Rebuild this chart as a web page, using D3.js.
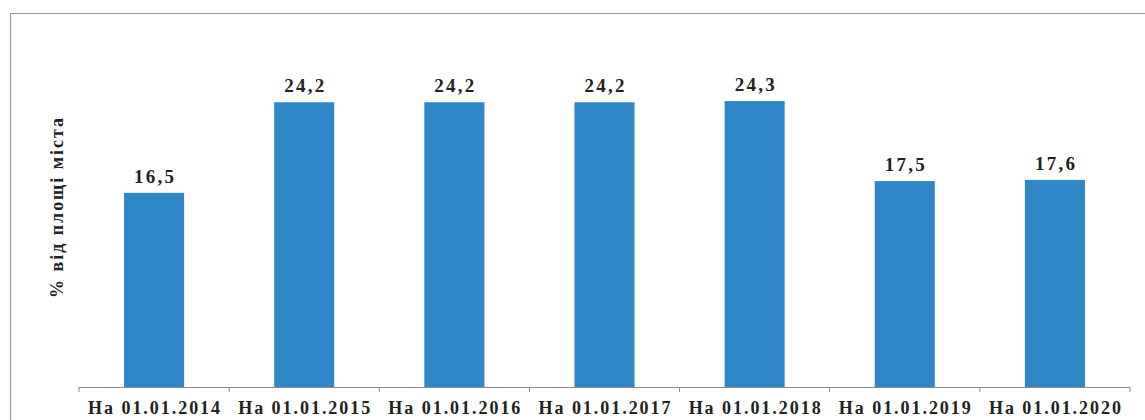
<!DOCTYPE html>
<html><head><meta charset="utf-8">
<script src="https://cdn.jsdelivr.net/npm/d3@7"></script>
<style>body{margin:0;background:#fff;overflow:hidden}svg{display:block}
text{font-family:"Liberation Serif","Times New Roman",serif;font-weight:bold;fill:#222}</style>
</head><body>
<svg id="c" width="1145" height="420"></svg>
<script>
const categories = ["На 01.01.2014","На 01.01.2015","На 01.01.2016","На 01.01.2017","На 01.01.2018","На 01.01.2019","На 01.01.2020"];
const values = [16.5, 24.2, 24.2, 24.2, 24.3, 17.5, 17.6];
const valueLabels = ["16,5","24,2","24,2","24,2","24,3","17,5","17,6"];
const yTitle = "% від площі міста";

const svg = d3.select("#c");
const W = 1145, H = 420;
const m = {left: 79, right: 15, top: 34, bottom: 33};
const x = d3.scaleBand().domain(categories).range([m.left, W - m.right]).paddingInner(0.6).paddingOuter(0.3);
const y = d3.scaleLinear().domain([0, 30]).range([H - m.bottom, m.top]);

// frame (left and top edges visible)
svg.append("path").attr("d", `M10.5,${H+5} L10.5,13.5 L${W+5},13.5`)
  .attr("fill", "none").attr("stroke", "#9a9a9a").attr("stroke-width", 1.2);

// bars
svg.selectAll("rect.bar").data(values).join("rect").attr("class","bar")
  .attr("x", (d,i) => x(categories[i])).attr("width", x.bandwidth())
  .attr("y", d => y(d)).attr("height", d => y(0) - y(d))
  .attr("fill", "#2f87c8");

// value labels
svg.selectAll("text.val").data(values).join("text").attr("class","val")
  .attr("x", (d,i) => x(categories[i]) + x.bandwidth()/2)
  .attr("y", d => y(d) - 10)
  .attr("text-anchor","middle")
  .attr("font-size", 19)
  .attr("textLength", 40).attr("lengthAdjust","spacing")
  .text((d,i) => valueLabels[i]);

// x axis
const axisY = y(0);
svg.append("line").attr("x1", m.left).attr("x2", W - m.right).attr("y1", axisY+0.5).attr("y2", axisY+0.5)
  .attr("stroke","#8a8a8a").attr("stroke-width",1.2);
const tickPos = d3.range(categories.length + 1).map(i => m.left + i * (W - m.right - m.left) / categories.length);
svg.selectAll("line.tick").data(tickPos).join("line").attr("class","tick")
  .attr("x1", d => d).attr("x2", d => d).attr("y1", axisY).attr("y2", axisY + 5)
  .attr("stroke","#8a8a8a").attr("stroke-width",1);

svg.selectAll("text.cat").data(categories).join("text").attr("class","cat")
  .attr("x", d => x(d) + x.bandwidth()/2)
  .attr("y", 414)
  .attr("text-anchor","middle")
  .attr("font-size", 18)
  .attr("textLength", 132).attr("lengthAdjust","spacing")
  .text(d => d);

// y title
svg.append("text")
  .attr("transform", "translate(63,208) rotate(-90)")
  .attr("text-anchor","middle")
  .attr("font-size", 18)
  .attr("textLength", 180).attr("lengthAdjust","spacing")
  .text(yTitle);
</script>
</body></html>
